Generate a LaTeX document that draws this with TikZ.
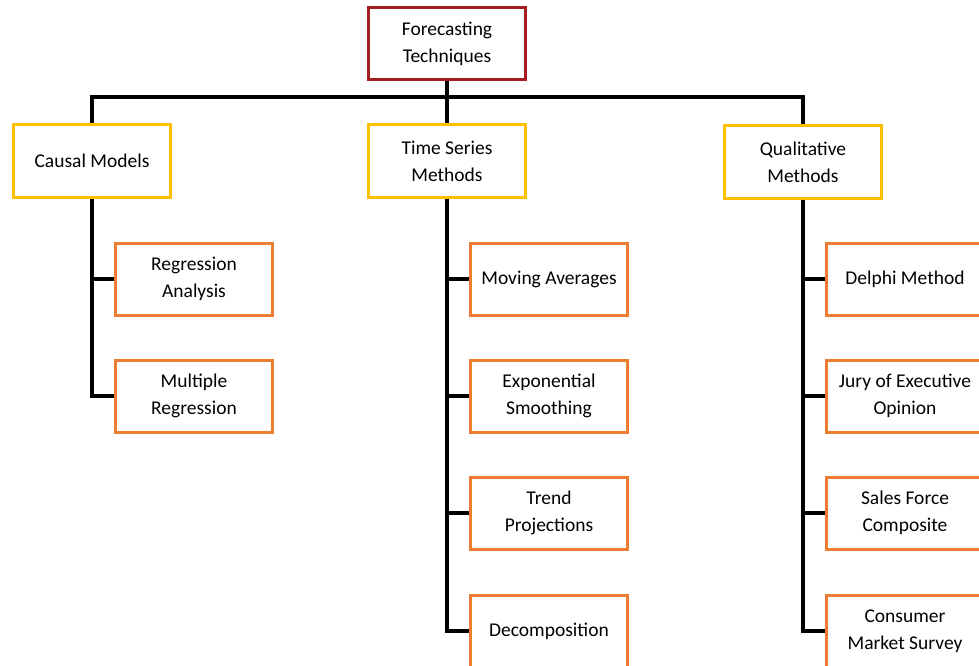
\documentclass[tikz,border=0pt]{standalone}
\usepackage{fontspec}
\setmainfont{Carlito}
\begin{document}
\begin{tikzpicture}[x=1pt,y=-1pt,
  box/.style={draw,line width=3pt,fill=white,minimum width=157pt,minimum height=72pt,inner sep=2pt,align=center,font=\fontsize{19.5}{27}\selectfont},
  rootbox/.style={box,draw={rgb,255:red,165;green,30;blue,30}},
  catbox/.style={box,draw={rgb,255:red,255;green,192;blue,0}},
  leafbox/.style={box,draw={rgb,255:red,237;green,125;blue,49}},
  link/.style={line width=3.2pt,black}]
\clip (0,0) rectangle (979,666);
\fill[white] (0,0) rectangle (979,666);
\node[rootbox] (root) at (447,44) {Forecasting\\Techniques};
\node[catbox] (causal) at (92,161) {Causal Models};
\node[catbox] (ts) at (447,161) {Time Series\\Methods};
\node[catbox] (qual) at (803,162) {Qualitative\\Methods};
\node[leafbox] (reg) at (194,279) {Regression\\Analysis};
\node[leafbox] (mreg) at (194,396) {Multiple\\Regression};
\node[leafbox] (ma) at (549,279) {Moving Averages};
\node[leafbox] (es) at (549,396) {Exponential\\Smoothing};
\node[leafbox] (tp) at (549,513) {Trend\\Projections};
\node[leafbox] (dec) at (549,631) {Decomposition};
\node[leafbox] (del) at (905,279) {Delphi Method};
\node[leafbox] (jury) at (905,396) {Jury of Executive\\Opinion};
\node[leafbox] (sfc) at (905,513) {Sales Force\\Composite};
\node[leafbox] (cms) at (905,631) {Consumer\\Market Survey};
\coordinate (bus) at (447,97);
\draw[link] (root.south) -- (bus);
\draw[link] (bus) -| (causal.north);
\draw[link] (bus) -| (qual.north);
\draw[link] (bus) -- (ts.north);
\draw[link] (causal.south) |- (mreg.west);
\draw[link] (causal.south |- reg.west) -- (reg.west);
\draw[link] (ts.south) |- (dec.west);
\draw[link] (ts.south |- ma.west) -- (ma.west);
\draw[link] (ts.south |- es.west) -- (es.west);
\draw[link] (ts.south |- tp.west) -- (tp.west);
\draw[link] (qual.south) |- (cms.west);
\draw[link] (qual.south |- del.west) -- (del.west);
\draw[link] (qual.south |- jury.west) -- (jury.west);
\draw[link] (qual.south |- sfc.west) -- (sfc.west);
\end{tikzpicture}
\end{document}
